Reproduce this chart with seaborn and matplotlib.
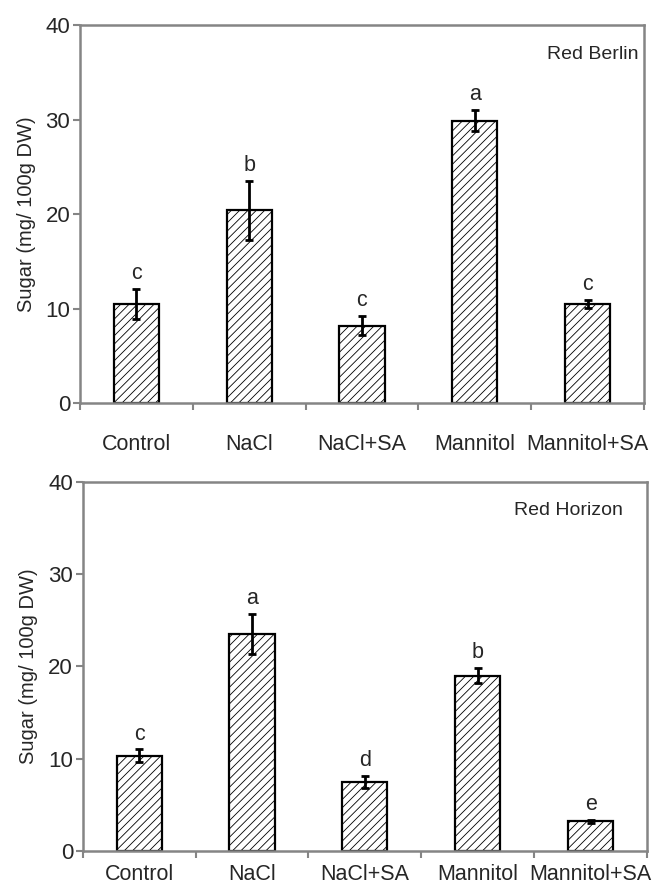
import pandas as pd
import matplotlib
matplotlib.use("Agg")
import matplotlib.pyplot as plt
import seaborn as sns

# treatments on the x axis
treatments = ["Control", "NaCl", "NaCl+SA", "Mannitol", "Mannitol+SA"]

# Red Berlin (top panel)
berlin_sugar = [10.5, 20.4, 8.2, 29.9, 10.5]
berlin_err = [1.6, 3.1, 1.0, 1.1, 0.4]
berlin_letters = ["c", "b", "c", "a", "c"]

# Red Horizon (bottom panel)
horizon_sugar = [10.3, 23.5, 7.5, 19.0, 3.2]
horizon_err = [0.7, 2.2, 0.65, 0.85, 0.2]
horizon_letters = ["c", "a", "d", "b", "e"]

sns.set_style("white")
plt.rcParams['font.family'] = ['Liberation Sans', 'DejaVu Sans']
plt.rcParams['hatch.linewidth'] = 0.6

grey = '#858585'

fig = plt.figure(figsize=(6.62, 8.86), dpi=100)
ax1 = fig.add_axes([0.1208, 0.5451, 0.852, 0.4266])
ax2 = fig.add_axes([0.125, 0.0395, 0.8524, 0.4168])


def draw_panel(ax, values, errs, letters, cultivar, name_x, label_pad):
    df = pd.DataFrame({'treatment': treatments, 'sugar': values})
    sns.barplot(data=df, x='treatment', y='sugar', color='white',
                edgecolor='black', linewidth=1.6, width=0.4, ax=ax)
    for p in ax.patches:
        p.set_hatch('////')
    ax.errorbar(range(len(values)), values, yerr=errs, fmt='none',
                ecolor='black', elinewidth=2, capsize=3.2, capthick=2, zorder=5)
    # significance letters above the error bars
    for i, (v, e, l) in enumerate(zip(values, errs, letters)):
        ax.annotate(l, (i, v + e), xytext=(0, 7), textcoords='offset points',
                    ha='center', va='baseline', fontsize=15.5)
    ax.text(name_x, 0.922, cultivar, transform=ax.transAxes, ha='right',
            va='center', fontsize=14)

    ax.set_ylim(0, 40)
    ax.set_xlim(-0.5, 4.5)
    ax.set_yticks([0, 10, 20, 30, 40])
    ax.set_xticks([-0.5, 0.5, 1.5, 2.5, 3.5, 4.5])
    ax.set_xticklabels([])
    ax.set_xticks(range(len(treatments)), minor=True)
    ax.set_xticklabels(treatments, minor=True, fontsize=15.5)
    ax.tick_params(axis='x', which='major', direction='out', length=5,
                   width=1.5, color=grey, bottom=True)
    ax.tick_params(axis='x', which='minor', length=0, pad=label_pad)
    ax.tick_params(axis='y', direction='out', length=5, width=1.5,
                   color=grey, labelsize=16, pad=2, left=True)
    for s in ax.spines.values():
        s.set_color(grey)
        s.set_linewidth(1.8)
    ax.set_xlabel('')
    ax.set_ylabel('Sugar (mg/ 100g DW)', fontsize=14.5, labelpad=7)


draw_panel(ax1, berlin_sugar, berlin_err, berlin_letters, 'Red Berlin', 0.99, 22)
draw_panel(ax2, horizon_sugar, horizon_err, horizon_letters, 'Red Horizon', 0.957, 9)

plt.savefig('out.png', dpi=100)
